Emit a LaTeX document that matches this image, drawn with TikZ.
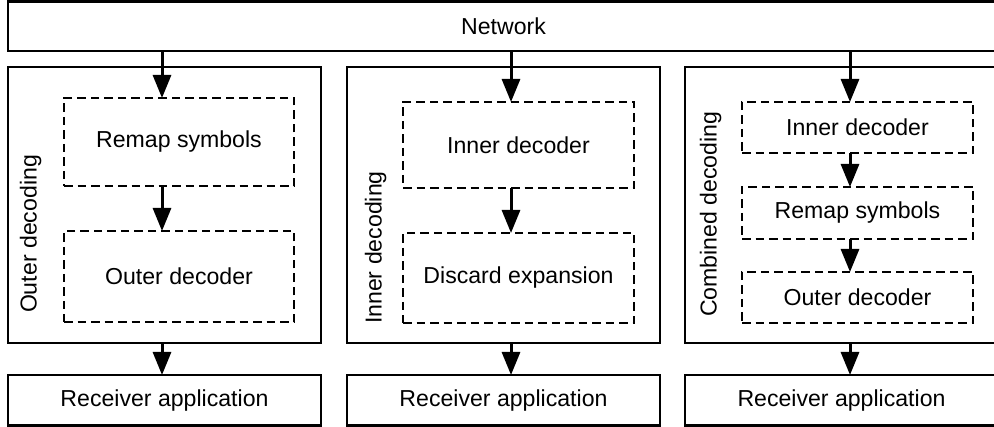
\documentclass[tikz,border=0pt]{standalone}
\usepackage{fontspec}
\setmainfont{Liberation Sans}
\usetikzlibrary{arrows.meta}
\begin{document}
\begin{tikzpicture}[x=1pt,y=-1pt,
  every node/.style={font=\fontsize{23.1}{27}\selectfont, inner sep=0pt, outer sep=0pt},
  solidbox/.style={draw, line width=2.3pt, rectangle, anchor=north west},
  dashbox/.style={draw, line width=2pt, rectangle, anchor=north west, dash pattern=on 8.5pt off 5pt},
  arr/.style={line width=3pt, -{Triangle[length=23pt,width=18pt]}},
  sidelabel/.style={rotate=90, anchor=base west}
]
\useasboundingbox (0,0) rectangle (994,427);

% Network
\node[solidbox, minimum width=1010pt, minimum height=49.5pt] (net) at (8,1.5) {};
\node (nettxt) at (503.5,26) {Network};

% Panels
\node[solidbox, minimum width=313pt, minimum height=276pt] (p1) at (8,67) {};
\node[solidbox, minimum width=313pt, minimum height=276pt] (p2) at (347,67) {};
\node[solidbox, minimum width=330pt, minimum height=276pt] (p3) at (685,67) {};

% Receivers
\node[solidbox, minimum width=313pt, minimum height=50.5pt] (r1) at (8,375) {};
\node at (r1.center) {Receiver application};
\node[solidbox, minimum width=313pt, minimum height=50.5pt] (r2) at (347,375) {};
\node at (r2.center) {Receiver application};
\node[solidbox, minimum width=330pt, minimum height=50.5pt] (r3) at (685,375) {};
\node at (841.5,400.25) {Receiver application};

% Side labels
\node[sidelabel] (l1) at (36.5,313) {Outer decoding};
\node[sidelabel] (l2) at (381.5,324) {Inner decoding};
\node[sidelabel] (l3) at (716.5,317) {Combined decoding};

% Panel 1 inner boxes
\node[dashbox, minimum width=230pt, minimum height=88pt] (a1) at (64,98) {};
\node at (a1.center) {Remap symbols};
\node[dashbox, minimum width=230pt, minimum height=91pt] (a2) at (64,231) {};
\node at (a2.center) {Outer decoder};

% Panel 2 inner boxes
\node[dashbox, minimum width=231pt, minimum height=86pt] (b1) at (403,102) {};
\node at (b1.center) {Inner decoder};
\node[dashbox, minimum width=231pt, minimum height=90pt] (b2) at (403,233) {};
\node at (b2.center) {Discard expansion};

% Panel 3 inner boxes
\node[dashbox, minimum width=231pt, minimum height=51pt] (c1) at (742,102) {};
\node at (c1.center) {Inner decoder};
\node[dashbox, minimum width=231pt, minimum height=52pt] (c2) at (742,187) {};
\node at (c2.center) {Remap symbols};
\node[dashbox, minimum width=231pt, minimum height=51pt] (c3) at (742,272) {};
\node at (c3.center) {Outer decoder};

% arrow columns
\coordinate (x1) at (162,0);
\coordinate (x2) at (511,0);
\coordinate (x3) at (850,0);

% Arrows
\draw[arr] (net.south -| x1) -- (a1.north -| x1);
\draw[arr] (a1.south -| x1) -- (a2.north -| x1);
\draw[arr] (p1.south -| x1) -- (r1.north -| x1);

\draw[arr] (net.south -| x2) -- (b1.north -| x2);
\draw[arr] (b1.south -| x2) -- (b2.north -| x2);
\draw[arr] (p2.south -| x2) -- (r2.north -| x2);

\draw[arr] (net.south -| x3) -- (c1.north -| x3);
\draw[arr] (c1.south -| x3) -- (c2.north -| x3);
\draw[arr] (c2.south -| x3) -- (c3.north -| x3);
\draw[arr] (p3.south -| x3) -- (r3.north -| x3);
\end{tikzpicture}
\end{document}
